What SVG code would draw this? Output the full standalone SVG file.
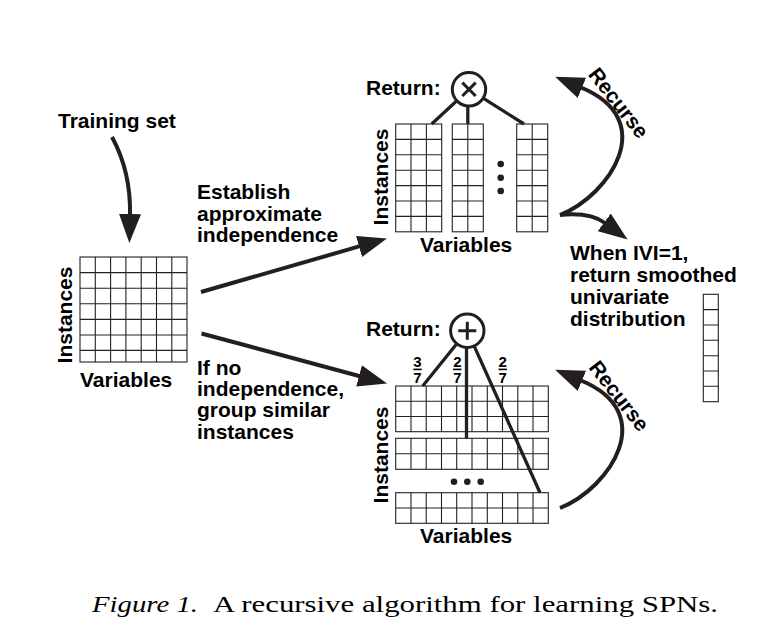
<svg xmlns="http://www.w3.org/2000/svg" width="781" height="636" viewBox="0 0 781 636">
<defs>
<style>
.lbl{font-family:"Liberation Sans",Arial,Helvetica,sans-serif;font-weight:bold;font-size:21px;fill:#000}
.frac{font-family:"Liberation Sans",Arial,Helvetica,sans-serif;font-weight:bold;font-size:15px;fill:#000;text-anchor:middle}
.cap{font-family:"Liberation Serif","Times New Roman",serif;font-size:24px;fill:#000}
.grid{fill:#fff;stroke:#222;stroke-width:1.1}
.gl{fill:none;stroke:#222;stroke-width:1.1}
.arr{fill:none;stroke:#231f20;stroke-width:4;marker-end:url(#ah)}
.edge{fill:none;stroke:#231f20;stroke-width:3.3;stroke-linecap:butt}
.op{fill:#fff;stroke:#231f20;stroke-width:3}
.dot{fill:#231f20}
</style>
<marker id="ah" markerUnits="userSpaceOnUse" markerWidth="30" markerHeight="24" viewBox="0 0 30 24" refX="1" refY="12" orient="auto">
<path d="M0,1 L29,12 L0,23 z" fill="#231f20"/>
</marker>
</defs>
<rect width="781" height="636" fill="#fff"/>

<g id="training-set">
<text class="lbl" x="58" y="128">Training set</text>
</g>

<g id="input-data">
<rect class="grid" x="80" y="257" width="107" height="105"/>
<path class="gl" d="M95.3,257V362M110.6,257V362M125.9,257V362M141.2,257V362M156.5,257V362M171.8,257V362M80,272.6H187M80,288.2H187M80,303.8H187M80,319.4H187M80,335H187M80,350.4H187"/>
<text class="lbl" transform="translate(71.5,315) rotate(-90)" text-anchor="middle">Instances</text>
<text class="lbl" x="80" y="386.5">Variables</text>
</g>

<g id="label-independence">
<text class="lbl" x="197" y="199">Establish</text>
<text class="lbl" x="197" y="220.5">approximate</text>
<text class="lbl" x="197" y="242">independence</text>
</g>

<g id="label-group">
<text class="lbl" x="197" y="374.5">If no</text>
<text class="lbl" x="197" y="396">independence,</text>
<text class="lbl" x="197" y="417">group similar</text>
<text class="lbl" x="197" y="438.5">instances</text>
</g>

<g id="product-node">
<text class="lbl" x="366" y="95">Return:</text>
<circle class="op" cx="469" cy="89.3" r="16.7"/>
<path d="M462.3,82.6 L475.7,96 M475.7,82.6 L462.3,96" stroke="#231f20" stroke-width="3" fill="none"/>
</g>

<g id="variable-split">
<rect class="grid" x="395.7" y="124" width="46" height="107.8"/>
<path class="gl" d="M411,124V231.8M426.4,124V231.8M395.7,139.4H441.7M395.7,154.8H441.7M395.7,170.2H441.7M395.7,185.6H441.7M395.7,201H441.7M395.7,216.4H441.7"/>
<rect class="grid" x="452.3" y="124" width="31" height="107.8"/>
<path class="gl" d="M467.8,124V231.8M452.3,139.4H483.3M452.3,154.8H483.3M452.3,170.2H483.3M452.3,185.6H483.3M452.3,201H483.3M452.3,216.4H483.3"/>
<rect class="grid" x="516.7" y="124" width="31" height="107.8"/>
<path class="gl" d="M532.2,124V231.8M516.7,139.4H547.7M516.7,154.8H547.7M516.7,170.2H547.7M516.7,185.6H547.7M516.7,201H547.7M516.7,216.4H547.7"/>
<circle class="dot" cx="500.7" cy="164" r="3.3"/>
<circle class="dot" cx="500.7" cy="177.7" r="3.3"/>
<circle class="dot" cx="500.7" cy="191" r="3.3"/>
<text class="lbl" transform="translate(388,177) rotate(-90)" text-anchor="middle">Instances</text>
<text class="lbl" x="420" y="251.7">Variables</text>
</g>

<g id="sum-node">
<text class="lbl" x="366" y="336">Return:</text>
<circle class="op" cx="467.3" cy="330.7" r="16.7"/>
<path d="M458.3,330.7 H476.3 M467.3,321.7 V339.7" stroke="#231f20" stroke-width="3" fill="none"/>
<text class="frac" x="417.3" y="367">3</text>
<rect x="413.3" y="368.6" width="8.4" height="1.6" fill="#000"/>
<text class="frac" x="417.3" y="382.5">7</text>
<text class="frac" x="457.3" y="367">2</text>
<rect x="453.1" y="368.6" width="8.4" height="1.6" fill="#000"/>
<text class="frac" x="457.3" y="382.5">7</text>
<text class="frac" x="502.7" y="367">2</text>
<rect x="498.5" y="368.6" width="8.4" height="1.6" fill="#000"/>
<text class="frac" x="502.7" y="382.5">7</text>
</g>

<g id="instance-split">
<rect class="grid" x="395.7" y="386" width="152.6" height="45.7"/>
<path class="gl" d="M411,386V431.7M426.2,386V431.7M441.5,386V431.7M456.7,386V431.7M472,386V431.7M487.3,386V431.7M502.5,386V431.7M517.8,386V431.7M533,386V431.7M395.7,401.2H548.3M395.7,416.5H548.3"/>
<rect class="grid" x="395.7" y="438.3" width="152.6" height="31"/>
<path class="gl" d="M411,438.3V469.3M426.2,438.3V469.3M441.5,438.3V469.3M456.7,438.3V469.3M472,438.3V469.3M487.3,438.3V469.3M502.5,438.3V469.3M517.8,438.3V469.3M533,438.3V469.3M395.7,453.8H548.3"/>
<rect class="grid" x="395.7" y="492.7" width="152.6" height="30.6"/>
<path class="gl" d="M411,492.7V523.3M426.2,492.7V523.3M441.5,492.7V523.3M456.7,492.7V523.3M472,492.7V523.3M487.3,492.7V523.3M502.5,492.7V523.3M517.8,492.7V523.3M533,492.7V523.3M395.7,508H548.3"/>
<circle class="dot" cx="454" cy="481.7" r="3.3"/>
<circle class="dot" cx="467.3" cy="481.7" r="3.3"/>
<circle class="dot" cx="480.7" cy="481.7" r="3.3"/>
<text class="lbl" transform="translate(388,455) rotate(-90)" text-anchor="middle">Instances</text>
<text class="lbl" x="420" y="543.3">Variables</text>
</g>

<g id="recurse-top">
<text class="lbl" transform="translate(613,107.3) rotate(52)" text-anchor="middle">Recurse</text>
</g>
<g id="recurse-bottom">
<text class="lbl" transform="translate(613.5,400.3) rotate(52)" text-anchor="middle">Recurse</text>
</g>

<g id="univariate">
<text class="lbl" x="570" y="259.5">When IVI=1,</text>
<text class="lbl" x="570" y="281.5">return smoothed</text>
<text class="lbl" x="570" y="303.5">univariate</text>
<text class="lbl" x="570" y="325.5">distribution</text>
<rect class="grid" x="703.3" y="294.3" width="15" height="107.4"/>
<path class="gl" d="M703.3,309.6H718.3M703.3,325H718.3M703.3,340.3H718.3M703.3,355.7H718.3M703.3,371H718.3M703.3,386.3H718.3"/>
</g>

<g id="caption">
<text class="cap" x="92" y="612" font-style="italic" textLength="106" lengthAdjust="spacingAndGlyphs">Figure 1.</text>
<text class="cap" x="213" y="612" textLength="505" lengthAdjust="spacingAndGlyphs">A recursive algorithm for learning SPNs.</text>
</g>

<g id="connectors">
<path class="arr" d="M112,137 Q131,172 130,215"/>
<path class="arr" d="M201,292 L360,246.2"/>
<path class="arr" d="M201.5,333.5 L360,376.2"/>
<path class="arr" d="M560,215 C610,195 660,120 581,87.5"/>
<path class="arr" d="M560,215 Q590,212 605,223"/>
<path class="arr" d="M560,508 C610,488 660,413 581,380.5"/>
<path class="edge" d="M456.8,100.7 L431.7,124 M467.8,106 V124 M483.1,98.2 L524,124"/>
<path class="edge" d="M456.8,343.7 L422.7,386 M466.5,347.4 V438.3 M474.1,345.9 L540,492.7"/>
</g>
</svg>
